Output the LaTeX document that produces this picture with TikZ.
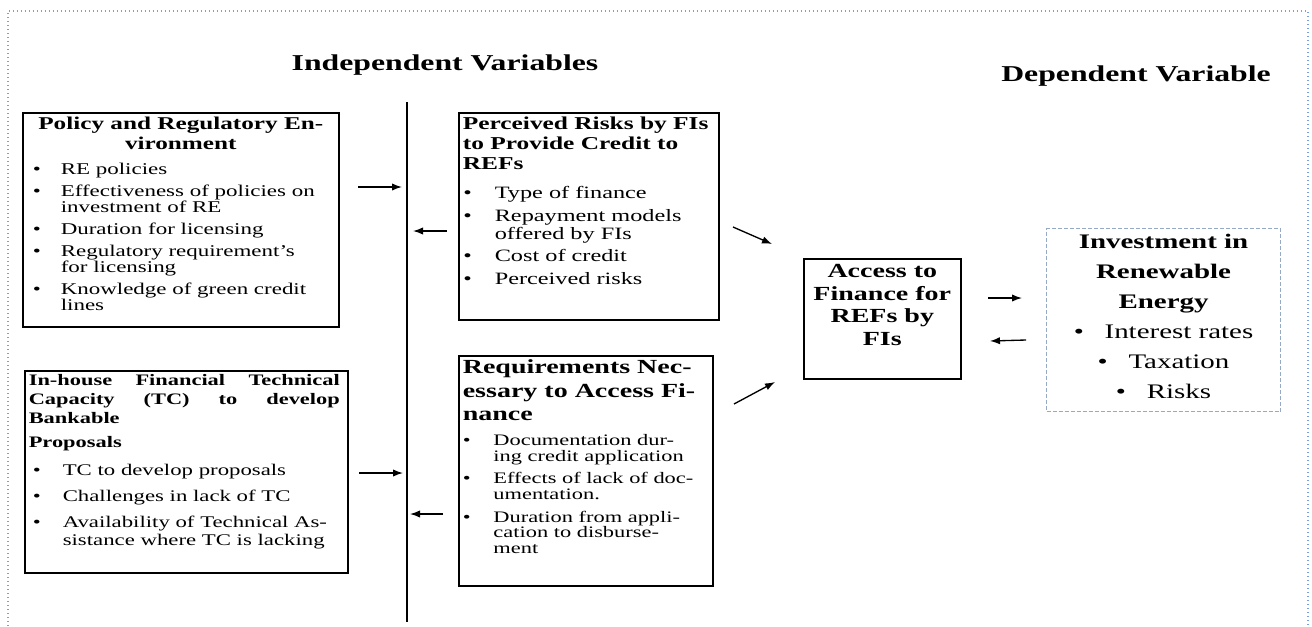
\documentclass[tikz,border=0pt]{standalone}
\usepackage{fontspec}
\setmainfont{Liberation Serif}[FakeStretch=1.4]
\usepackage{tikz}
\usetikzlibrary{arrows.meta}
\definecolor{edgeblue}{RGB}{120,160,232}
\definecolor{frameblue}{RGB}{150,170,198}
\newlength\bulpre \newlength\bulind
\newcommand{\vbody}[3]{\begin{minipage}[t][#2][t]{#1}#3\end{minipage}}
\newcommand{\bpt}[2]{\par\vspace{#1}\hangindent=\bulind\hangafter=1\noindent\makebox[\bulind][l]{\hspace{\bulpre}\textbullet}#2}

\begin{document}
\begin{tikzpicture}[x=0.75pt, y=-0.75pt, >={Latex[length=7.5pt,width=5.5pt]},
frame/.style={draw, line width=1.2pt, anchor=north west, inner sep=3pt},
depbox/.style={frame, draw=frameblue, line width=0.8pt, dash pattern=on 3pt off 1.5pt, inner sep=4pt},
bul/.style 2 args={execute at begin node={\setlength\bulpre{#1}\setlength\bulind{#2}}},
ttl/.style={anchor=base, font=\fontsize{17}{20}\selectfont\bfseries},
arr/.style={->, line width=1pt}, bar/.style={line width=1.6pt}]
\useasboundingbox (0,0) rectangle (1312,626);
\draw[edgeblue, dotted, line width=1pt] (8,626) -- (8,11) -- (1308,11) -- (1308,626);
\node[ttl] (indep) at (445,70) {Independent Variables};
\node[ttl] (dep) at (1136,81) {Dependent Variable};
\node[frame, bul={4.5pt}{25.5pt}] (policy) at (22,112) {\vbody{231pt}{154.5pt}{\fontsize{13.5}{15}\selectfont\bfseries\centering Policy and Regulatory En-\\ vironment\par
\fontsize{12.3}{12}\selectfont\mdseries\raggedright
\bpt{7pt}{RE policies}\bpt{4.5pt}{Effectiveness of policies on\newline investment of RE}\bpt{4.5pt}{Duration for licensing}\bpt{4.5pt}{Regulatory requirement's\newline for licensing}\bpt{4.5pt}{Knowledge of green credit\newline lines}}};
\node[frame, bul={3pt}{25.5pt}] (capacity) at (24,370) {\vbody{236.25pt}{145.5pt}{\fontsize{12}{14.25}\selectfont\bfseries \makebox[\dimexpr\linewidth-3pt][s]{In-house Financial Technical}\\ \makebox[\dimexpr\linewidth-3pt][s]{Capacity (TC) to develop}\\ Bankable\par\vspace{3.75pt}Proposals\par
\fontsize{12.2}{13.5}\selectfont\mdseries\raggedright
\bpt{7.5pt}{TC to develop proposals}\bpt{6pt}{Challenges in lack of TC}\bpt{6pt}{Availability of Technical As-\newline sistance where TC is lacking}}};
\node[frame, bul={0.5pt}{24pt}] (risks) at (458,112) {\vbody{189pt}{149.25pt}{\fontsize{13.6}{15}\selectfont\bfseries\raggedright Perceived Risks by FIs\\ to Provide Credit to\\ REFs\par
\fontsize{13}{13.5}\selectfont\mdseries
\bpt{8.25pt}{Type of finance}\bpt{3.5pt}{Repayment models\newline offered by FIs}\bpt{3.5pt}{Cost of credit}\bpt{3.5pt}{Perceived risks}}};
\node[frame, bul={0pt}{23pt}] (reqs) at (458,355) {\vbody{184.5pt}{166.5pt}{\fontsize{15}{17.6}\selectfont\bfseries\raggedright Requirements Nec-\\ essary to Access Fi-\\ nance\par
\fontsize{12}{11.75}\selectfont\mdseries
\bpt{7pt}{Documentation dur-\newline ing credit application}\bpt{5.25pt}{Effects of lack of doc-\newline umentation.}\bpt{5.25pt}{Duration from appli-\newline cation to disburse-\newline ment}}};
\node[frame, inner sep=4pt] (access) at (803,258) {\vbody{109.75pt}{82pt}{\fontsize{15}{17}\selectfont\bfseries\centering Access to\\ Finance for\\ REFs by\\ FIs}};
\node[depbox] (invest) at (1046,228) {\vbody{167.5pt}{129.25pt}{\fontsize{15.5}{22.5}\selectfont\bfseries\centering Investment in\\ Renewable\\ Energy\par
\mdseries \textbullet\hspace{1em}Interest rates\\ \textbullet\hspace{1em}Taxation\\ \textbullet\hspace{1em}Risks}};
\coordinate (bartop) at (407,102); \coordinate (barbot) at (407,622);
\draw[bar] (bartop) -- (barbot);
\coordinate (pol1) at (358,187); \coordinate (bar1) at (402,187); \coordinate (risk1) at (447,231); \coordinate (bar2) at (413,231);
\coordinate (tc1) at (359,473); \coordinate (bar3) at (403,473); \coordinate (req1) at (443,514); \coordinate (bar4) at (410,514);
\coordinate (risk2) at (733,227); \coordinate (acc1) at (772,244); \coordinate (req2) at (734,404); \coordinate (acc2) at (775,382);
\coordinate (acc3) at (988,298); \coordinate (inv1) at (1022,298); \coordinate (inv2) at (1026,340); \coordinate (acc4) at (990,341);
\draw[arr] (pol1) -- (bar1); \draw[arr] (risk1) -- (bar2); \draw[arr] (tc1) -- (bar3); \draw[arr] (req1) -- (bar4);
\draw[arr] (risk2) -- (acc1); \draw[arr] (req2) -- (acc2); \draw[arr] (acc3) -- (inv1); \draw[arr] (inv2) -- (acc4);
\end{tikzpicture}
\end{document}
